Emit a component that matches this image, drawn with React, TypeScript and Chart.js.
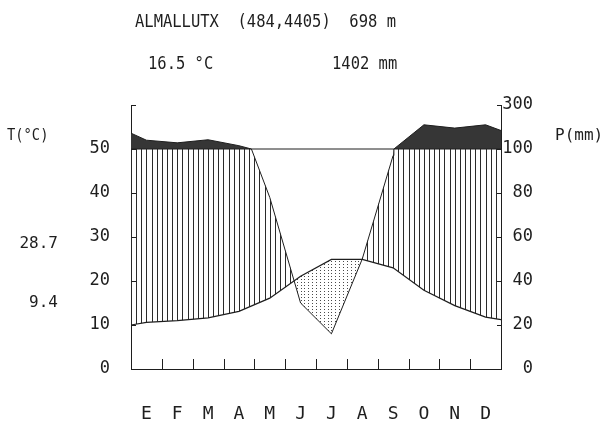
import React, { useEffect, useRef } from 'react';
import { Chart, registerables } from 'chart.js';

Chart.register(...registerables);

// ---- Data ----
const MONTHS = ['E', 'F', 'M', 'A', 'M', 'J', 'J', 'A', 'S', 'O', 'N', 'D'];
const TEMP = [10.6, 11.0, 11.6, 13.1, 16.1, 21.1, 24.9, 24.9, 23.0, 17.9, 14.4, 11.8];
const TEMP_EDGES = [10.0, 11.2]; // values at the year's start / end edges
const PREC = [140, 128, 142, 115, 78, 30, 16, 50, 97, 210, 195, 210];
const PREC_EDGES = [172, 184];
const T_TICKS = [0, 10, 20, 30, 40, 50];
const P_TICKS = [0, 20, 40, 60, 80, 100, 300];
const STATION = 'ALMALLUTX';
const COORDS = '(484,4405)';
const ALTITUDE = '698 m';
const MEAN_T = '16.5 °C';
const TOTAL_P = '1402 mm';
const ABS_MAX = '28.7';
const ABS_MIN = '9.4';

// Walter-Lieth precipitation scale: 20 mm = 10 °C up to 100 mm, then 1/10
const pd = (p: number) => (p <= 100 ? p / 2 : 50 + (p - 100) / 20);
const pInv = (v: number) => (v <= 50 ? v * 2 : 100 + (v - 50) * 20);

const tempSeries = [
  { x: 0, y: TEMP_EDGES[0] },
  ...TEMP.map((t, i) => ({ x: i + 0.5, y: t })),
  { x: 12, y: TEMP_EDGES[1] },
];

const precRaw = [
  { x: 0, p: PREC_EDGES[0] },
  ...PREC.map((p, i) => ({ x: i + 0.5, p })),
  { x: 12, p: PREC_EDGES[1] },
];

function buildPrecDisplay() {
  const out: { x: number; y: number }[] = [];
  for (let i = 0; i < precRaw.length; i++) {
    const cur = precRaw[i];
    if (i > 0) {
      const prev = precRaw[i - 1];
      if ((prev.p - 100) * (cur.p - 100) < 0) {
        const f = (100 - prev.p) / (cur.p - prev.p);
        out.push({ x: prev.x + f * (cur.x - prev.x), y: 50 });
      }
    }
    out.push({ x: cur.x, y: pd(cur.p) });
  }
  return out;
}
const precSeries = buildPrecDisplay();

const FONT = '"DejaVu Sans Mono", "Liberation Mono", monospace';
const INK = '#1e1e1e';

const fillPlugin = {
  id: 'walterFill',
  beforeDatasetsDraw(chart: any) {
    const { ctx, chartArea: a, scales } = chart;
    const xs = scales.x;
    const ys = scales.y;
    const tp = tempSeries.map((p) => [xs.getPixelForValue(p.x), ys.getPixelForValue(p.y)]);
    const pp = precSeries.map((p) => [xs.getPixelForValue(p.x), ys.getPixelForValue(p.y)]);
    const y50 = ys.getPixelForValue(50);
    const path = (pts: number[][]) => {
      ctx.moveTo(pts[0][0], pts[0][1]);
      for (let i = 1; i < pts.length; i++) ctx.lineTo(pts[i][0], pts[i][1]);
    };
    const monthW = xs.getPixelForValue(1) - xs.getPixelForValue(0);

    // dark area: precipitation above 100 mm
    ctx.save();
    ctx.beginPath();
    ctx.rect(a.left, a.top, a.right - a.left, y50 - a.top);
    ctx.clip();
    ctx.beginPath();
    path(pp);
    ctx.lineTo(a.right, a.bottom);
    ctx.lineTo(a.left, a.bottom);
    ctx.closePath();
    ctx.fillStyle = '#363636';
    ctx.fill();
    ctx.restore();

    // humid period: vertical hatching
    ctx.save();
    ctx.beginPath();
    ctx.rect(a.left, y50, a.right - a.left, a.bottom - y50);
    ctx.clip();
    ctx.beginPath();
    path(pp);
    ctx.lineTo(a.right, a.bottom);
    ctx.lineTo(a.left, a.bottom);
    ctx.closePath();
    ctx.clip();
    ctx.beginPath();
    path(tp);
    ctx.lineTo(a.right, a.top);
    ctx.lineTo(a.left, a.top);
    ctx.closePath();
    ctx.clip();
    ctx.beginPath();
    const step = monthW / 6;
    for (let px = a.left; px <= a.right + 0.5; px += step) {
      const xx = Math.round(px) + 0.5;
      ctx.moveTo(xx, a.top);
      ctx.lineTo(xx, a.bottom);
    }
    ctx.strokeStyle = '#2a2a2a';
    ctx.lineWidth = 1;
    ctx.stroke();
    ctx.restore();

    // arid period: dots
    ctx.save();
    ctx.beginPath();
    path(tp);
    ctx.lineTo(a.right, a.bottom);
    ctx.lineTo(a.left, a.bottom);
    ctx.closePath();
    ctx.clip();
    ctx.beginPath();
    path(pp);
    ctx.lineTo(a.right, a.top);
    ctx.lineTo(a.left, a.top);
    ctx.closePath();
    ctx.clip();
    ctx.fillStyle = '#4a4a4a';
    const dstep = monthW / 8;
    for (let px = a.left; px <= a.right; px += dstep) {
      const xx = Math.round(px);
      for (let py = a.top; py <= a.bottom; py += 3) {
        ctx.fillRect(xx, Math.round(py), 1, 1);
      }
    }
    ctx.restore();
  },
  afterDraw(chart: any) {
    const { ctx, chartArea: a, scales } = chart;
    const xs = scales.x;
    const ys = scales.y;
    ctx.save();
    ctx.strokeStyle = INK;
    ctx.lineWidth = 1;
    ctx.beginPath();
    // inward ticks on both vertical axes
    const vals = [10, 20, 30, 40, 50, 60];
    vals.forEach((v) => {
      const py = Math.round(ys.getPixelForValue(v)) + 0.5;
      ctx.moveTo(Math.round(a.left) + 0.5, py);
      ctx.lineTo(Math.round(a.left) + 5, py);
      ctx.moveTo(Math.round(a.right) + 0.5, py);
      ctx.lineTo(Math.round(a.right) - 4, py);
    });
    // month boundary ticks on the bottom axis
    for (let i = 1; i < 12; i++) {
      const px = Math.round(xs.getPixelForValue(i)) + 0.5;
      ctx.moveTo(px, a.bottom);
      ctx.lineTo(px, a.bottom - 10);
    }
    ctx.stroke();

    // texts
    ctx.fillStyle = INK;
    ctx.textBaseline = 'middle';
    const scaledText = (txt: string, x: number, y: number, size: number, sx: number) => {
      ctx.save();
      ctx.translate(x, y);
      ctx.scale(sx, 1);
      ctx.font = `${size}px ${FONT}`;
      ctx.textAlign = 'left';
      ctx.fillText(txt, 0, 0);
      ctx.restore();
    };
    scaledText(`${STATION}  ${COORDS}  ${ALTITUDE}`, 135, 22, 18, 0.86);
    scaledText(MEAN_T, 148, 64, 18, 0.86);
    scaledText(TOTAL_P, 332, 64, 18, 0.86);
    scaledText('T(°C)', 7, 136, 16, 0.86);
    scaledText('P(mm)', 555, 136, 16, 1);
    ctx.font = `16px ${FONT}`;
    ctx.textAlign = 'right';
    ctx.fillText(ABS_MAX, 58, 244);
    ctx.fillText(ABS_MIN, 58, 303);
    ctx.restore();
  },
};

export default function App() {
  const ref = useRef<HTMLCanvasElement | null>(null);
  useEffect(() => {
    if (!ref.current) return;
    const tickFont = { family: FONT, size: 17 };
    const chart = new Chart(ref.current, {
      type: 'line',
      data: {
        datasets: [
          {
            label: 'P',
            data: precSeries,
            borderColor: INK,
            borderWidth: 1,
            pointRadius: 0,
            fill: false,
            yAxisID: 'y',
          },
          {
            label: 'T',
            data: tempSeries,
            borderColor: INK,
            borderWidth: 1.2,
            pointRadius: 0,
            fill: false,
            yAxisID: 'y',
          },
          {
            label: '50',
            data: [
              { x: 0, y: 50 },
              { x: 12, y: 50 },
            ],
            borderColor: INK,
            borderWidth: 1,
            pointRadius: 0,
            fill: false,
            yAxisID: 'y',
          },
        ],
      },
      options: {
        animation: false,
        responsive: false,
        devicePixelRatio: 1,
        layout: { padding: { top: 105, bottom: 0, left: 0, right: 74 } },
        plugins: { legend: { display: false }, tooltip: { enabled: false } },
        scales: {
          x: {
            type: 'linear',
            min: 0,
            max: 12,
            grid: { display: false, drawTicks: false },
            border: { display: true, color: INK, width: 1 },
            afterBuildTicks: (s: any) => {
              s.ticks = MONTHS.map((_, i) => ({ value: i + 0.5 }));
            },
            afterFit: (s: any) => {
              s.height = 54;
            },
            ticks: {
              autoSkip: false,
              maxRotation: 0,
              padding: 35,
              color: INK,
              font: { family: FONT, size: 18 },
              callback: (v: any) => MONTHS[Math.floor(Number(v))] ?? '',
            },
          },
          y: {
            type: 'linear',
            position: 'left',
            min: 0,
            max: 60,
            grid: { display: false, drawTicks: false },
            border: { display: true, color: INK, width: 1 },
            afterBuildTicks: (s: any) => {
              s.ticks = T_TICKS.map((v) => ({ value: v }));
            },
            afterFit: (s: any) => {
              s.width = 131;
            },
            ticks: {
              padding: 21,
              color: INK,
              font: tickFont,
              callback: (v: any) => String(v),
            },
          },
          yP: {
            type: 'linear',
            position: 'right',
            min: 0,
            max: 60,
            grid: { display: false, drawTicks: false },
            border: { display: true, color: INK, width: 1 },
            afterBuildTicks: (s: any) => {
              s.ticks = P_TICKS.map((p) => ({ value: pd(p) }));
            },
            afterFit: (s: any) => {
              s.width = 32;
            },
            ticks: {
              crossAlign: 'far',
              padding: 4,
              color: INK,
              font: tickFont,
              callback: (v: any) => String(Math.round(pInv(Number(v)))),
            },
          },
        },
      } as any,
      plugins: [fillPlugin],
    });
    return () => chart.destroy();
  }, []);
  return (
    <div style={{ position: 'absolute', left: 0, top: 0, width: 607, height: 423, background: '#fff' }}>
      <canvas ref={ref} width={607} height={423} style={{ width: 607, height: 423, display: 'block' }} />
    </div>
  );
}
